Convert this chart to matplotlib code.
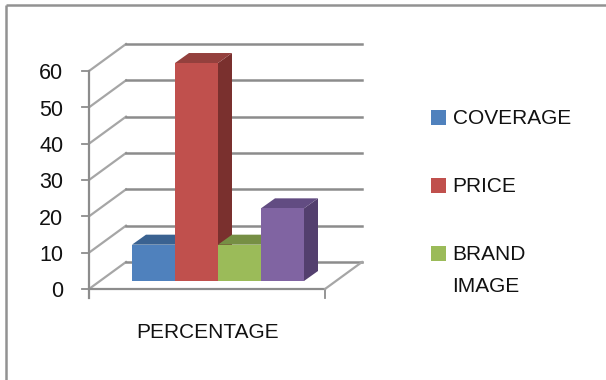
import matplotlib.pyplot as plt
from matplotlib.patches import Polygon

plt.rcParams['font.family'] = ['Liberation Sans', 'DejaVu Sans']

categories = ['COVERAGE', 'PRICE', 'BRAND\nIMAGE', '']
values = [10, 60, 10, 20]
y_ticks = [0, 10, 20, 30, 40, 50, 60]
x_label = 'PERCENTAGE'

front = ['#4f81bd', '#c0504d', '#9bbb59', '#8064a2']
side = ['#2f5075', '#7a302e', '#5f7336', '#533f6e']
top = ['#3a6291', '#94403d', '#768f44', '#624c82']

W, H = 606, 380

# y axis is in data units, x axis in pixels
y_per_px = 10 / 36.33


def py(p):
    return (289 - p) * y_per_px


# --- wall geometry

wall_dx = 37
wall_dy = 27 * y_per_px
bar_dx = 14
bar_dy = 10 * y_per_px
bar_base = py(281)
bar_left = 132
bar_w = 43

fig = plt.figure(figsize=(W / 100, H / 100), dpi=100)
ax = fig.add_axes((0, 0, 1, 1))
ax.set_xlim(0, W)
ax.set_ylim(py(H), py(0))
ax.axis('off')

grey = '#8c8c8c'

# --- outer frame
ax.plot([6, 6], [py(H), py(4.7)], color='#929292', lw=1.8, solid_capstyle='butt')
ax.plot([6, W], [py(4.7), py(4.7)], color='#929292', lw=1.8, solid_capstyle='butt')

# --- gridlines
for t in y_ticks:
    ax.plot([82, 89], [t, t], color=grey, lw=1.3)
    ax.plot([89, 89 + wall_dx], [t, t + wall_dy], color='#a6a6a6', lw=1.6)
    ax.plot([89 + wall_dx, 362], [t + wall_dy, t + wall_dy], color=grey, lw=1.8)
    ax.text(63.5, t - 0.75, str(t), ha='right', va='center', fontsize=15.5, color='#111111')

ax.plot([89, 89], [y_ticks[0] - 9 * y_per_px, y_ticks[-1]], color=grey, lw=1.6)
ax.plot([89, 325], [0, 0], color=grey, lw=1.6)
ax.plot([325, 325], [0, -9 * y_per_px], color=grey, lw=1.3)
ax.plot([325, 362], [0, wall_dy], color='#a6a6a6', lw=1.6)

# --- bars, left to right so each one covers the previous
for i, v in enumerate(values):
    x0 = bar_left + i * bar_w
    x1 = x0 + bar_w
    y0 = bar_base
    y1 = bar_base + v
    ax.add_patch(Polygon([(x1, y0), (x1 + bar_dx, y0 + bar_dy), (x1 + bar_dx, y1 + bar_dy), (x1, y1)], fc=side[i], ec='none', zorder=3))
    ax.add_patch(Polygon([(x0, y1), (x0 + bar_dx, y1 + bar_dy), (x1 + bar_dx, y1 + bar_dy), (x1, y1)], fc=top[i], ec='none', zorder=3))
    ax.add_patch(Polygon([(x0, y0), (x1, y0), (x1, y1), (x0, y1)], fc=front[i], ec='none', zorder=3))

ax.text(208, py(333), x_label, ha='center', va='center', fontsize=15, color='#111111')

# --- legend
leg_y = [117.5, 185.5, 253.5]
for i, name in enumerate(categories[:3]):
    ax.add_patch(Polygon([(431, py(leg_y[i] - 7.5)), (446, py(leg_y[i] - 7.5)), (446, py(leg_y[i] + 7.5)), (431, py(leg_y[i] + 7.5))], fc=front[i], ec='none'))
    ax.text(452.5, py(leg_y[i] - 8), name, ha='left', va='top', fontsize=15, color='#111111', linespacing=1.83)

fig.savefig('out.png', dpi=100)
